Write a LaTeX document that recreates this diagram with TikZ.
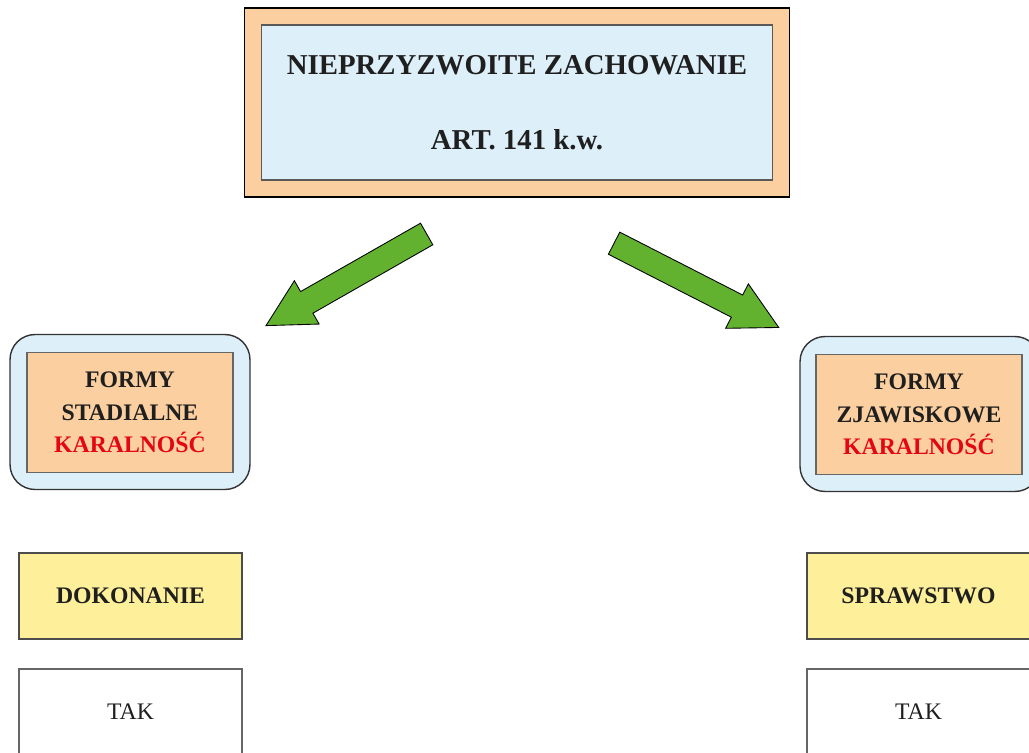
\documentclass[tikz,border=0pt]{standalone}
\usepackage{fontspec}
\setmainfont{Liberation Serif}
\usetikzlibrary{shapes.arrows}
\definecolor{peach}{HTML}{FBCF9F}
\definecolor{paleblue}{HTML}{DDEFF8}
\definecolor{paleyellow}{HTML}{FEF09A}
\definecolor{arrowgreen}{HTML}{63B22F}
\definecolor{alarmred}{HTML}{E30613}
\definecolor{ink}{HTML}{1F1F1F}
\begin{document}
\begin{tikzpicture}[
        x = 0.02cm, y = -0.02cm,
        frame/.style = {draw=black, line width=0.7pt, fill=peach},
        panel/.style = {draw=black!65, line width=0.6pt, fill=paleblue, text=ink,
          align=center, font=\bfseries\fontsize{16.4}{43}\selectfont},
        cloud/.style = {draw=black!80, line width=0.8pt, fill=paleblue,
          rounded corners=0.5cm, minimum width=4.8cm, minimum height=3.1cm},
        forma/.style = {draw=black!60, line width=0.6pt, fill=peach, text=ink,
          align=center, minimum width=4.12cm, minimum height=2.4cm,
          font=\bfseries\fontsize{13.5}{18.5}\selectfont},
        stage/.style = {draw=black!70, line width=0.6pt, fill=paleyellow, text=ink,
          minimum width=4.46cm, minimum height=1.72cm,
          font=\bfseries\fontsize{13.5}{16}\selectfont},
        answer/.style = {draw=black!60, line width=0.6pt, fill=white, text=ink,
          minimum width=4.46cm, minimum height=1.72cm,
          font=\fontsize{13.5}{16}\selectfont},
        blockarrow/.style = {single arrow, draw=black, line width=0.5pt, fill=arrowgreen,
          inner sep=0.24cm, minimum width=0.98cm, minimum height=3.7cm,
          single arrow head extend=0.25cm, single arrow tip angle=56},
      ]
      \useasboundingbox (0,0) rectangle (1029,752);
      \clip (0,0) rectangle (1029,752);
        % top
        \node[frame, minimum width=10.9cm, minimum height=3.78cm] (title) at (517,102.5) {};
        \node[panel, minimum width=10.22cm, minimum height=3.1cm] (titlein) at (title)
          {NIEPRZYZWOITE ZACHOWANIE\\ART. 141 k.w.};
        % arrows
        \node[blockarrow, rotate=209.7] (arrL) at (356.5,274) {};
        \node[blockarrow, rotate=-27.1] (arrR) at (686,280) {};
        % left column
        \node[cloud] (stadbox) at (130,412) {};
        \node[forma] (stad) at (130,412.5)
          {FORMY\\STADIALNE\\\textcolor{alarmred}{KARALNOŚĆ}};
        \node[stage] (dok) at (130.5,596) {DOKONANIE};
        \node[answer] (takL) at (130.5,712) {TAK};
        % right column
        \node[cloud] (zjawbox) at (920,414) {};
        \node[forma] (zjaw) at (919,414.5)
          {FORMY\\ZJAWISKOWE\\\textcolor{alarmred}{KARALNOŚĆ}};
        \node[stage] (spr) at (918.5,596) {SPRAWSTWO};
        \node[answer] (takR) at (918.5,712) {TAK};
      \end{tikzpicture}
\end{document}
